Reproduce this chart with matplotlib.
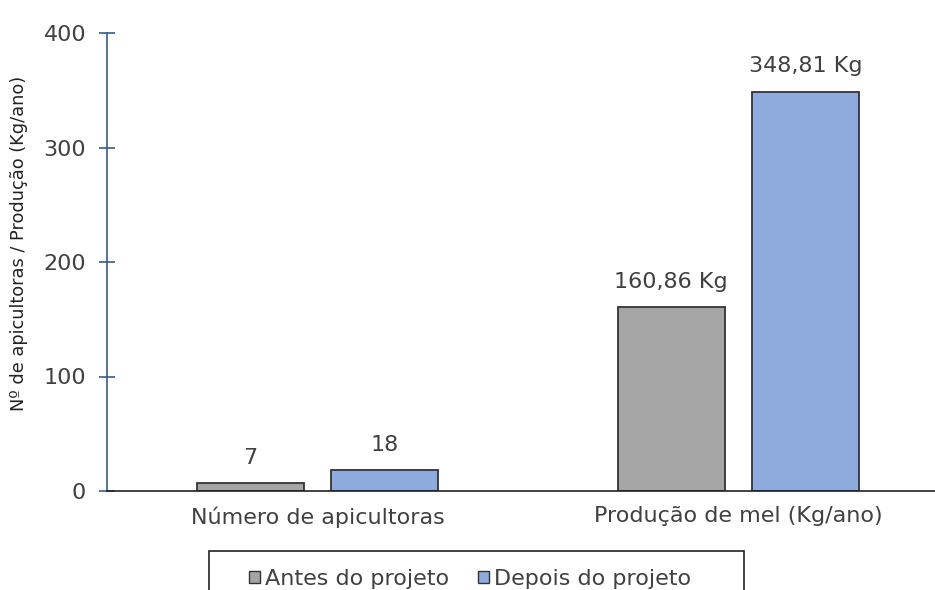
import matplotlib.pyplot as plt
from matplotlib.patches import Rectangle
import numpy as np

plt.rcParams['font.family'] = ['DejaVu Sans']

categorias = ['Número de apicultoras', 'Produção de mel (Kg/ano)']
antes = [7, 160.86]
depois = [18, 348.81]
rotulos_antes = ['7', '160,86 Kg']
rotulos_depois = ['18', '348,81 Kg']

W, H = 935, 590
fig = plt.figure(figsize=(W / 100, H / 100), dpi=100)
# eixo largo: o fim do ultimo grupo fica fora da figura
ax = fig.add_axes([107 / W, 99 / H, 842 / W, 458 / H])

ind = np.arange(len(categorias))
width = 0.254
off = 0.16
fs = 16

r1 = ax.bar(ind - off, antes, width=width, color='#A5A5A5', edgecolor='#333333',
            linewidth=1.3, label='Antes do projeto')
r2 = ax.bar(ind + off, depois, width=width, color='#8FAADC', edgecolor='#333333',
            linewidth=1.3, label='Depois do projeto')

for rects, labels in ((r1, rotulos_antes), (r2, rotulos_depois)):
    for rect, txt in zip(rects, labels):
        ax.annotate(txt, (rect.get_x() + rect.get_width() / 2, rect.get_height()),
                    xytext=(0, 11), textcoords='offset points',
                    ha='center', va='bottom', fontsize=fs, color='#404040')

ax.set_xlim(-0.5, 1.5)
ax.set_ylim(0, 400)
ax.set_yticks([0, 100, 200, 300, 400])
ax.set_xticks(ind)
ax.set_xticklabels(categorias)

for s in ('top', 'right'):
    ax.spines[s].set_visible(False)
ax.spines['left'].set_color('#3B5A8C')
ax.spines['left'].set_linewidth(1.2)
ax.spines['bottom'].set_color('#222222')
ax.spines['bottom'].set_linewidth(1.2)

ax.tick_params(axis='y', direction='inout', length=12, width=1.2, color='#3B5A8C',
               labelsize=fs, labelcolor='#404040', pad=9)
ax.tick_params(axis='x', length=0, labelsize=fs, labelcolor='#404040', pad=11)

ax.set_ylabel('Nº de apicultoras / Produção (Kg/ano)', fontsize=12.8, color='#222222')
ax.yaxis.set_label_coords(-0.094, 0.54)

# legenda sem moldura; a moldura vai a parte e sai pela borda de baixo
leg = fig.legend(loc='upper center', bbox_to_anchor=(470 / W, 1 - 551 / H), ncol=2,
                 fontsize=fs, frameon=False, labelcolor='#404040',
                 handlelength=0.5, handleheight=0.5, handletextpad=0.2,
                 columnspacing=1.3, borderpad=0.3)
for h in leg.legend_handles:
    h.set_linewidth(1.0)
fig.patches.append(Rectangle((209 / W, -0.05), 535 / W, 0.05 + (H - 551) / H,
                             transform=fig.transFigure, fill=False,
                             edgecolor='#222222', linewidth=1.2))

plt.savefig('out.png', dpi=100)
